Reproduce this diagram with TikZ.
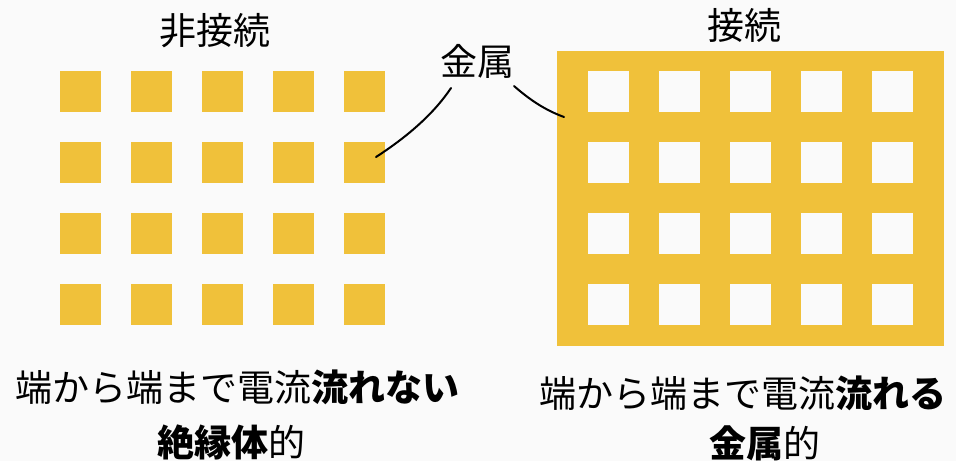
\documentclass[tikz,border=0pt]{standalone}
\usepackage{fontspec}
\setmainfont{Noto Sans CJK JP}
\definecolor{gold}{RGB}{240,193,58}
\definecolor{bg}{RGB}{250,250,250}
\begin{document}
\begin{tikzpicture}[x=1pt,y=-1pt,
  txt/.style={inner sep=0pt,font=\fontsize{37}{44}\selectfont},
  pad/.style={fill=gold},
  hole/.style={fill=bg},
  leader/.style={line width=2pt,line cap=round}]
\fill[bg] (0,0) rectangle (956,461);
\useasboundingbox (0,0) rectangle (956,461);
% left: separate metal pads
\foreach \i in {0,...,4} {
  \foreach \j in {0,...,3} {
    \fill[pad] ({60+71*\i},{71+71*\j}) rectangle ++(41,41);
  }
}
% right: connected metal with holes
\fill[pad] (557,51) rectangle (944,346);
\foreach \i in {0,...,4} {
  \foreach \j in {0,...,3} {
    \fill[hole] ({588+71*\i},{71+71*\j}) rectangle ++(41,41);
  }
}
% texts
\node[txt] (t1) at (215,31) {非接続};
\node[txt] (t2) at (744,25) {接続};
\node[txt] (metal) at (477,61.5) {金属};
\node[txt] (l1) at (237.5,387) {端から端まで電流\textbf{流れない}};
\node[txt] (l2) at (231,442) {\textbf{絶縁体}的};
\node[txt] (r1) at (742.5,393) {端から端まで電流\textbf{流れる}};
\node[txt] (r2) at (765,443.5) {\textbf{金属}的};
% leaders
\coordinate (m1) at (451,88);
\coordinate (p1) at (376,157);
\coordinate (m2) at (514,86);
\coordinate (p2) at (564,117);
\draw[leader] (m1) .. controls (435,112) and (410,135) .. (p1);
\draw[leader] (m2) .. controls (530,100) and (545,110) .. (p2);
\end{tikzpicture}
\end{document}
